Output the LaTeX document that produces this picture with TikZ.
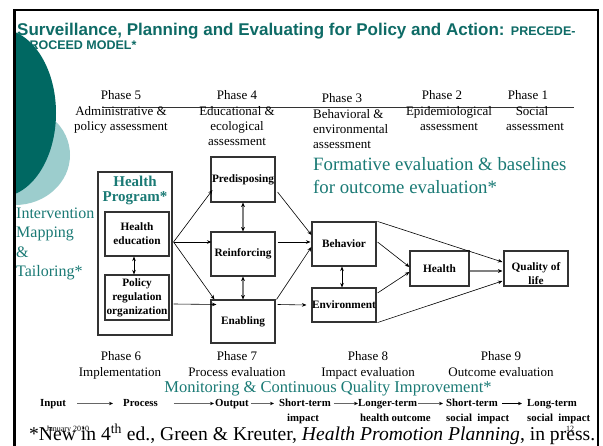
\documentclass[tikz,border=0pt]{standalone}
\usepackage{fontspec}
\setmainfont{Liberation Serif}
\newfontfamily\titlefont{Liberation Sans}
\usetikzlibrary{arrows.meta,calc}
\definecolor{tealdark}{HTML}{006862}
\definecolor{teallight}{HTML}{9CCDCD}
\definecolor{tealtext}{HTML}{1A7A75}
\definecolor{titlecol}{HTML}{0E6B66}
\definecolor{boxline}{HTML}{333333}
\begin{document}
\begin{tikzpicture}[x=1pt,y=-1pt,
  ph/.style={inner sep=0, anchor=base, font=\fontsize{13}{15}\selectfont},
  phw/.style={ph, anchor=base west},
  bx/.style={draw=boxline, line width=1.1pt, minimum width=64pt, inner sep=0, align=center, font=\bfseries\fontsize{11.3}{14}\selectfont},
  lbl/.style={inner sep=0, align=center, font=\bfseries\fontsize{11.3}{14}\selectfont},
  tl/.style={inner sep=0, anchor=base west, text=tealtext, font=\fontsize{16}{19}\selectfont},
  fm/.style={inner sep=0, anchor=base west, text=tealtext, font=\fontsize{18.8}{21}\selectfont},
  rowt/.style={inner sep=0, anchor=base west, font=\bfseries\fontsize{10.8}{13}\selectfont},
  arr/.style={draw=black, line width=0.6pt, -{Stealth[length=4.5pt,width=3.6pt]}},
  darr/.style={draw=black, line width=0.6pt, {Stealth[length=4.5pt,width=3.6pt]}-{Stealth[length=4.5pt,width=3.6pt]}},
  garr/.style={draw=gray, line width=1.4pt, {Stealth[length=4.5pt,width=3.8pt,color=black]}-{Stealth[length=4.5pt,width=3.8pt,color=black]}},
  gsarr/.style={draw=gray, line width=1.4pt, -{Stealth[length=4.5pt,width=3.8pt,color=black]}},
  rarr/.style={draw=gray!80!black, line width=0.9pt, -{Stealth[length=4pt,width=3.4pt,color=black]}}
]
\useasboundingbox (0,0) rectangle (603,446);
\fill[white] (0,0) rectangle (603,446);

% title
\node[anchor=base west, inner sep=0, text=titlecol, font=\titlefont\bfseries\fontsize{17}{19}\selectfont] (title1) at (17,36)
  {Surveillance, Planning and Evaluating for Policy and Action: {\fontsize{12.5}{14}\selectfont PRECEDE-}};
\node[anchor=base west, inner sep=0, text=titlecol, font=\titlefont\bfseries\fontsize{12.5}{14}\selectfont] (title2) at (21,50) {PROCEED MODEL*};

% decorative circles
\begin{scope}
  \clip (16,11) rectangle (597,446);
  \fill[teallight] (15,155) ellipse [x radius=55, y radius=50];
  \fill[tealdark] (0,113) ellipse [x radius=56, y radius=84];
\end{scope}

% frame
\draw[black, line width=3pt] (14.5,446) -- (14.5,9.5);
\draw[black, line width=1.8pt] (13,10.4) -- (598,10.4) -- (598,446);

% phase header
\draw[boxline, line width=0.8pt] (102,107) -- (574,107);
\node[ph] (p5) at (121,100) {Phase 5};
\node[ph] (p5a) at (121,116) {Administrative \&};
\node[ph] (p5b) at (121,131) {policy assessment};
\node[ph] (p4) at (237,100) {Phase 4};
\node[ph] (p4a) at (237,116) {Educational \&};
\node[ph] (p4b) at (237,131) {ecological};
\node[ph] (p4c) at (237,146) {assessment};
\node[ph] (p3) at (342,103) {Phase 3};
\node[phw] (p3a) at (313,119) {Behavioral \&};
\node[phw] (p3b) at (313,134) {environmental};
\node[phw] (p3c) at (313,149) {assessment};
\node[ph] (p2) at (442,100) {Phase 2};
\node[ph] (p2a) at (449,116) {Epidemiological};
\node[ph] (p2b) at (449,131) {assessment};
\node[ph] (p1) at (528,100) {Phase 1};
\node[ph] (p1a) at (532,116) {Social};
\node[ph] (p1b) at (535,131) {assessment};

% formative evaluation
\node[fm] (fm1) at (313,171) {Formative evaluation \& baselines};
\node[fm] (fm2) at (313,194) {for outcome evaluation*};

% intervention mapping
\node[tl] (im1) at (16,219) {Intervention};
\node[tl] (im2) at (16,238) {Mapping};
\node[tl] (im3) at (16,258) {\&};
\node[tl] (im4) at (16,277) {Tailoring*};

% health program
\node[draw=boxline, line width=1.1pt, minimum width=74pt, minimum height=163pt, inner sep=0] (hp) at (135,253.5) {};
\node[inner sep=0, anchor=base, text=tealtext, font=\bfseries\fontsize{15}{17}\selectfont] (hpt1) at (135,187) {Health};
\node[inner sep=0, anchor=base, text=tealtext, font=\bfseries\fontsize{15}{17}\selectfont] (hpt2) at (135,202) {Program*};
\node[bx, minimum height=44pt] (he) at (137,234) {Health\\education};
\node[bx, minimum height=45pt] (pol) at (137,297.5) {Policy\\regulation\\organization};

% determinants
\node[bx, minimum height=45pt] (pred) at (243,179.5) {Predisposing};
\node[bx, minimum height=44pt] (reinf) at (243,254) {Reinforcing};
\node[bx, minimum height=43pt] (enab) at (243,321.5) {Enabling};
\node[bx, minimum height=44pt] (beh) at (344,244) {Behavior};
\node[bx, minimum height=34pt] (env) at (344,305) {Environment};
\node[bx, minimum width=59pt, minimum height=35pt] (hea) at (439.5,268.5) {Health};
\node[bx, minimum height=35pt] (qol) at (536,268.5) {};
\node[lbl] (qolt) at (536,273.5) {Quality of\\life};

% connectors
\draw[darr] ($(he.south)+(-3,0)$) -- ($(pol.north)+(-3,0)$);
\draw[arr] ($(he.east)+(4,8)$) -- ($(pred.west)+(2,10.5)$);
\draw[arr] ($(he.east)+(4,8)$) -- ($(reinf.west)+(1,-12)$);
\draw[arr] ($(he.east)+(4,8)$) -- ($(enab.north west)+(4,0)$);
\draw[arr] ($(pol.east)+(4,6.5)$) -- ($(enab.west)+(6,-17)$);
\draw[garr] (pred.south) -- (reinf.north);
\draw[garr] (reinf.south) -- (enab.north);
\draw[arr] ($(pred.east)+(2,12.5)$) -- ($(beh.west)+(0,-9)$);
\draw[arr] ($(reinf.east)+(2,-12)$) -- ($(beh.west)+(-1,-2)$);
\draw[arr] ($(enab.north east)+(1,0)$) -- ($(beh.west)+(0,3)$);
\draw[arr] ($(enab.east)+(2,-17)$) -- ($(env.west)+(-5,0)$);
\draw[darr] ($(beh.south)+(-2,0)$) -- ($(env.north)+(-2,0)$);
\draw[arr] ($(beh.east)+(1,-2)$) -- ($(hea.west)+(0,-1.5)$);
\draw[arr] ($(env.east)+(1,-12)$) -- ($(hea.west)+(0,3.5)$);
\draw[arr] ($(beh.north east)+(1,0)$) -- ($(qol.west)+(-1,-6.5)$);
\draw[gsarr] ($(hea.east)+(0,2.5)$) -- ($(qol.west)+(-1,2.5)$);
\draw[arr] ($(env.south east)+(1,0)$) -- ($(qol.west)+(-1,12.5)$);

% bottom phases
\node[ph] (p6) at (121,361) {Phase 6};
\node[ph] (p6a) at (120,377) {Implementation};
\node[ph] (p7) at (237,361) {Phase 7};
\node[ph] (p7a) at (237,377) {Process evaluation};
\node[ph] (p8) at (368,361) {Phase 8};
\node[ph] (p8a) at (368,377) {Impact evaluation};
\node[ph] (p9) at (501,361) {Phase 9};
\node[ph] (p9a) at (501,377) {Outcome evaluation};
\node[inner sep=0, anchor=base, text=tealtext, font=\fontsize{16.5}{19}\selectfont] (mon) at (328,393) {Monitoring \& Continuous Quality Improvement*};

% input row
\node[rowt] (in) at (40,407) {Input};
\node[rowt] (pr) at (123,407) {Process};
\node[rowt] (out) at (215,407) {Output};
\node[rowt] (st1) at (279,407) {Short-term};
\node[rowt] (st1b) at (287,422) {impact};
\node[rowt] (lt) at (358,407) {Longer-term};
\node[rowt] (ltb) at (360,422) {health outcome};
\node[rowt] (st2) at (446,407) {Short-term};
\node[rowt] (st2b) at (446,422) {social\ \ impact};
\node[rowt] (lg) at (527,407) {Long-term};
\node[rowt] (lgb) at (527,422) {social\ \ impact};
\draw[rarr] ($(in.base east)+(11,-3.5)$) -- ($(pr.base west)+(-10,-3.5)$);
\draw[rarr] ($(pr.base east)+(16,-3.5)$) -- ($(out.base west)+(-1,-3.5)$);
\draw[rarr] ($(out.base east)+(2,-3.5)$) -- ($(st1.base west)+(-5,-3.5)$);
\draw[rarr] ($(st1.base east)+(3,-3.5)$) -- ($(lt.base west)+(0,-3.5)$);
\draw[rarr] ($(lt.base east)+(1,-3.5)$) -- ($(st2.base west)+(-3,-3.5)$);
\draw[rarr, draw=black] ($(st2.base east)+(4,-3.5)$) -- ($(lg.base west)+(-5,-3.5)$);

% footer
\node[inner sep=0, anchor=base west, font=\fontsize{19.6}{22}\selectfont] (foot) at (29,441)
  {*New in 4\textsuperscript{th} ed., Green \& Kreuter, \textit{Health Promotion Planning}, in press.};
\node[inner sep=0, anchor=base west, font=\fontsize{8}{9}\selectfont] (date) at (46,432) {January 2010};
\node[inner sep=0, anchor=base west, font=\fontsize{8}{9}\selectfont] (pg) at (566,432) {12};
\end{tikzpicture}
\end{document}
